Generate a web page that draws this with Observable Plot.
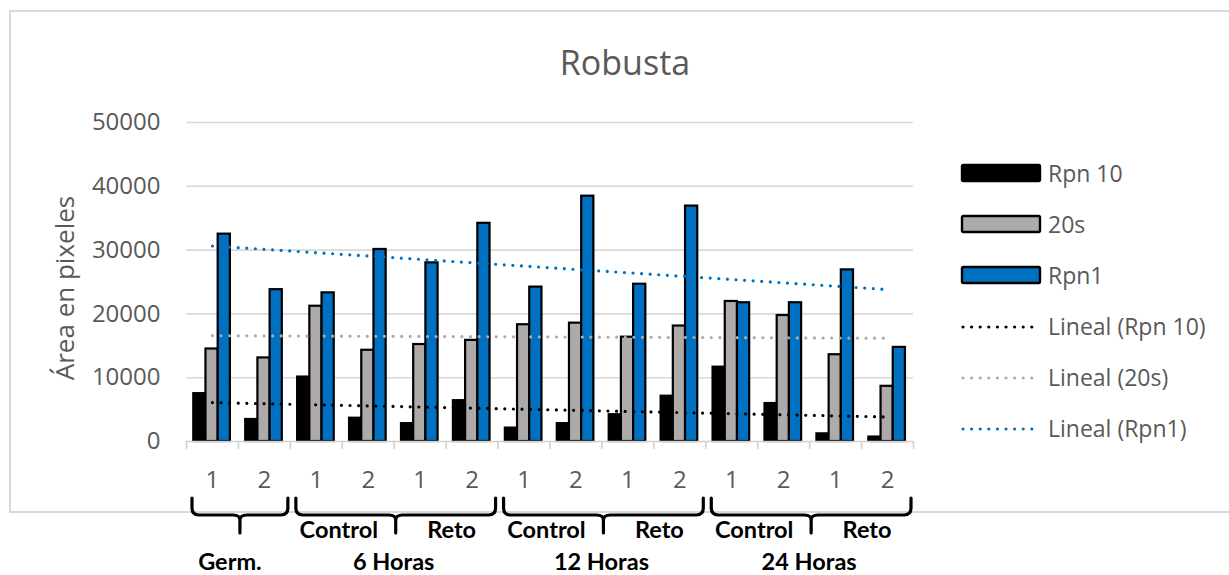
<!DOCTYPE html>
<html>
<head>
<meta charset="utf-8">
<script src="https://cdn.jsdelivr.net/npm/d3@7"></script>
<script src="https://cdn.jsdelivr.net/npm/@observablehq/plot@0.6"></script>
<style>
  html, body { margin: 0; padding: 0; background: #fff; }
  #wrap { position: relative; width: 1229px; height: 575px; overflow: hidden; font-family: "Open Sans", sans-serif; }
  #frame { position: absolute; left: 9px; top: 10px; width: 1240px; height: 499px; border: 2px solid #D9D9D9; box-sizing: content-box; }
  #chart { position: absolute; left: 0; top: 0; }
  #title { position: absolute; left: 0; width: 1250px; top: 40px; text-align: center; font-size: 34px; color: #595959; line-height: 44px; }
  #legend { position: absolute; left: 958px; top: 150px; }
  .lg { position: absolute; left: 0; height: 30px; width: 280px; }
  .lg svg { position: absolute; left: 0; top: 0; }
  .lg span { position: absolute; left: 90px; top: 0; font-size: 23px; line-height: 30px; color: #595959; white-space: nowrap; }
</style>
</head>
<body>
<div id="wrap">
  <div id="frame"></div>
  <div id="chart"></div>
  <div id="title">Robusta</div>
  <div id="legend"></div>
</div>
<script>
// ---- data ----
const tickLabels = ["1","2","1","2","1","2","1","2","1","2","1","2","1","2"];
const seriesNames = ["Rpn 10", "20s", "Rpn1"];
const rpn10 = [7500, 3450, 10100, 3650, 2800, 6400, 2100, 2800, 4200, 7100, 11650, 5950, 1200, 700];
const s20   = [14500, 13100, 21200, 14300, 15200, 15850, 18300, 18550, 16350, 18100, 21950, 19750, 13600, 8650];
const rpn1  = [32500, 23800, 23300, 30100, 28000, 34200, 24200, 38450, 24650, 36900, 21750, 21750, 26900, 14750];
const seriesColors = ["#000000", "#AEAAAA", "#0070C0"];
const trendNames = ["Lineal (Rpn 10)", "Lineal (20s)", "Lineal (Rpn1)"];
const trendColors = ["#000000", "#AEAAAA", "#0070C0"];
const groups = [
  {name: "Germ.", from: 0, to: 2, sub: []},
  {name: "6 Horas", from: 2, to: 6, sub: ["Control", "Reto"]},
  {name: "12 Horas", from: 6, to: 10, sub: ["Control", "Reto"]},
  {name: "24 Horas", from: 10, to: 14, sub: ["Control", "Reto"]}
];
const yTicks = [0, 10000, 20000, 30000, 40000, 50000];

// ---- build table ----
const allSeries = [rpn10, s20, rpn1];
const rows = [];
allSeries.forEach((vals, s) => vals.forEach((v, i) => rows.push({i, s, series: seriesNames[s], value: v})));

const barW = 0.235, groupStart = 0.14;
const nCat = tickLabels.length;

const plot = Plot.plot({
  width: 1229,
  height: 575,
  marginLeft: 186,
  marginRight: 316,
  marginTop: 122,
  marginBottom: 134,
  style: {fontFamily: "'Open Sans', sans-serif", background: "transparent", overflow: "visible"},
  x: {type: "linear", domain: [0, nCat], axis: null},
  y: {domain: [0, 50000], axis: null},
  marks: [
    Plot.ruleY(yTicks.filter(d => d > 0), {stroke: "#D9D9D9", strokeWidth: 1.6}),
    Plot.rectY(rows, {
      x1: d => d.i + groupStart + d.s * barW,
      x2: d => d.i + groupStart + (d.s + 1) * barW,
      y1: 0, y2: "value",
      fill: d => seriesColors[d.s],
      stroke: "#000", strokeWidth: 2.2
    }),
    Plot.ruleY([0], {stroke: "#D0D0D0", strokeWidth: 1.6}),
    Plot.axisX({ticks: d3.range(0, nCat + 1), tickSize: 8, tickFormat: () => "", stroke: "#D0D0D0", strokeWidth: 1.6}),
    Plot.axisX({ticks: d3.range(nCat).map(i => i + 0.5), tickSize: 0, tickPadding: 29,
      tickFormat: (d) => tickLabels[Math.floor(d)], fontSize: 24, fill: "#595959", label: null}),
    Plot.axisY({ticks: yTicks, tickSize: 0, tickPadding: 26, tickFormat: d => String(d), fontSize: 24, fill: "#595959", label: null}),
    Plot.text(["Área en pixeles"], {frameAnchor: "left", textAnchor: "middle", dx: -121, dy: 6, rotate: -90, fontSize: 26, fill: "#595959"}),
    ...allSeries.map((vals, s) => Plot.linearRegressionY(
      rows.filter(r => r.s === s),
      {x: d => d.i + 0.5, y: "value", ci: 0, stroke: trendColors[s], strokeWidth: 3.2,
       strokeDasharray: "0 8.6", strokeLinecap: "round"}))
  ]
});
document.getElementById("chart").appendChild(plot);

// ---- brackets below the axis, positioned via the plot's x scale ----
const xs = plot.scale("x");
const X = v => xs.apply(v);
const svg = d3.select(plot);
const gb = svg.append("g").attr("fill", "none").attr("stroke", "#000").attr("stroke-width", 3.2).attr("stroke-linecap", "round");
const yTop = 498, yMid = 515, yStem = 533;
groups.forEach(g => {
  const x1 = X(g.from) + 6, x2 = X(g.to) - 2, xc = (X(g.from) + X(g.to)) / 2 + 2;
  const r = 7;
  const path = `M${x1},${yTop} L${x1},${yMid - r} Q${x1},${yMid} ${x1 + r},${yMid} L${xc - r},${yMid} Q${xc},${yMid} ${xc},${yMid + 5} L${xc},${yStem}`
    + ` M${xc},${yMid + 5} Q${xc},${yMid} ${xc + r},${yMid} L${x2 - r},${yMid} Q${x2},${yMid} ${x2},${yMid - r} L${x2},${yTop}`;
  gb.append("path").attr("d", path);
});
const gt = svg.append("g").attr("font-family", "Lato, 'Open Sans', sans-serif").attr("font-weight", "bold").attr("fill", "#000").attr("font-size", 23.5).attr("text-anchor", "middle");
groups.forEach(g => {
  const xc = (X(g.from) + X(g.to)) / 2;
  gt.append("text").attr("x", g.sub.length ? xc : xc - 8).attr("y", 570).text(g.name);
  if (g.sub.length) {
    const mid = (g.from + g.to) / 2;
    gt.append("text").attr("x", X(g.from + 1) - 3).attr("y", 538).text(g.sub[0]);
    gt.append("text").attr("x", X(mid + 1) + 6).attr("y", 538).text(g.sub[1]);
  }
});

// ---- legend ----
const legend = document.getElementById("legend");
const rowsY = [8, 59, 110, 161, 212, 263];
seriesNames.forEach((n, s) => {
  const div = document.createElement("div");
  div.className = "lg"; div.style.top = rowsY[s] + "px";
  div.innerHTML = `<svg width="86" height="30"><rect x="4" y="7" width="78" height="16" rx="1.5" fill="${seriesColors[s]}" stroke="#000" stroke-width="2.4"/></svg><span>${n}</span>`;
  legend.appendChild(div);
});
trendNames.forEach((n, s) => {
  const div = document.createElement("div");
  div.className = "lg"; div.style.top = rowsY[s + 3] + "px";
  div.innerHTML = `<svg width="86" height="30"><line x1="5" x2="80" y1="16" y2="16" stroke="${trendColors[s]}" stroke-width="3.2" stroke-dasharray="0 8.6" stroke-linecap="round"/></svg><span>${n}</span>`;
  legend.appendChild(div);
});
</script>
</body>
</html>
